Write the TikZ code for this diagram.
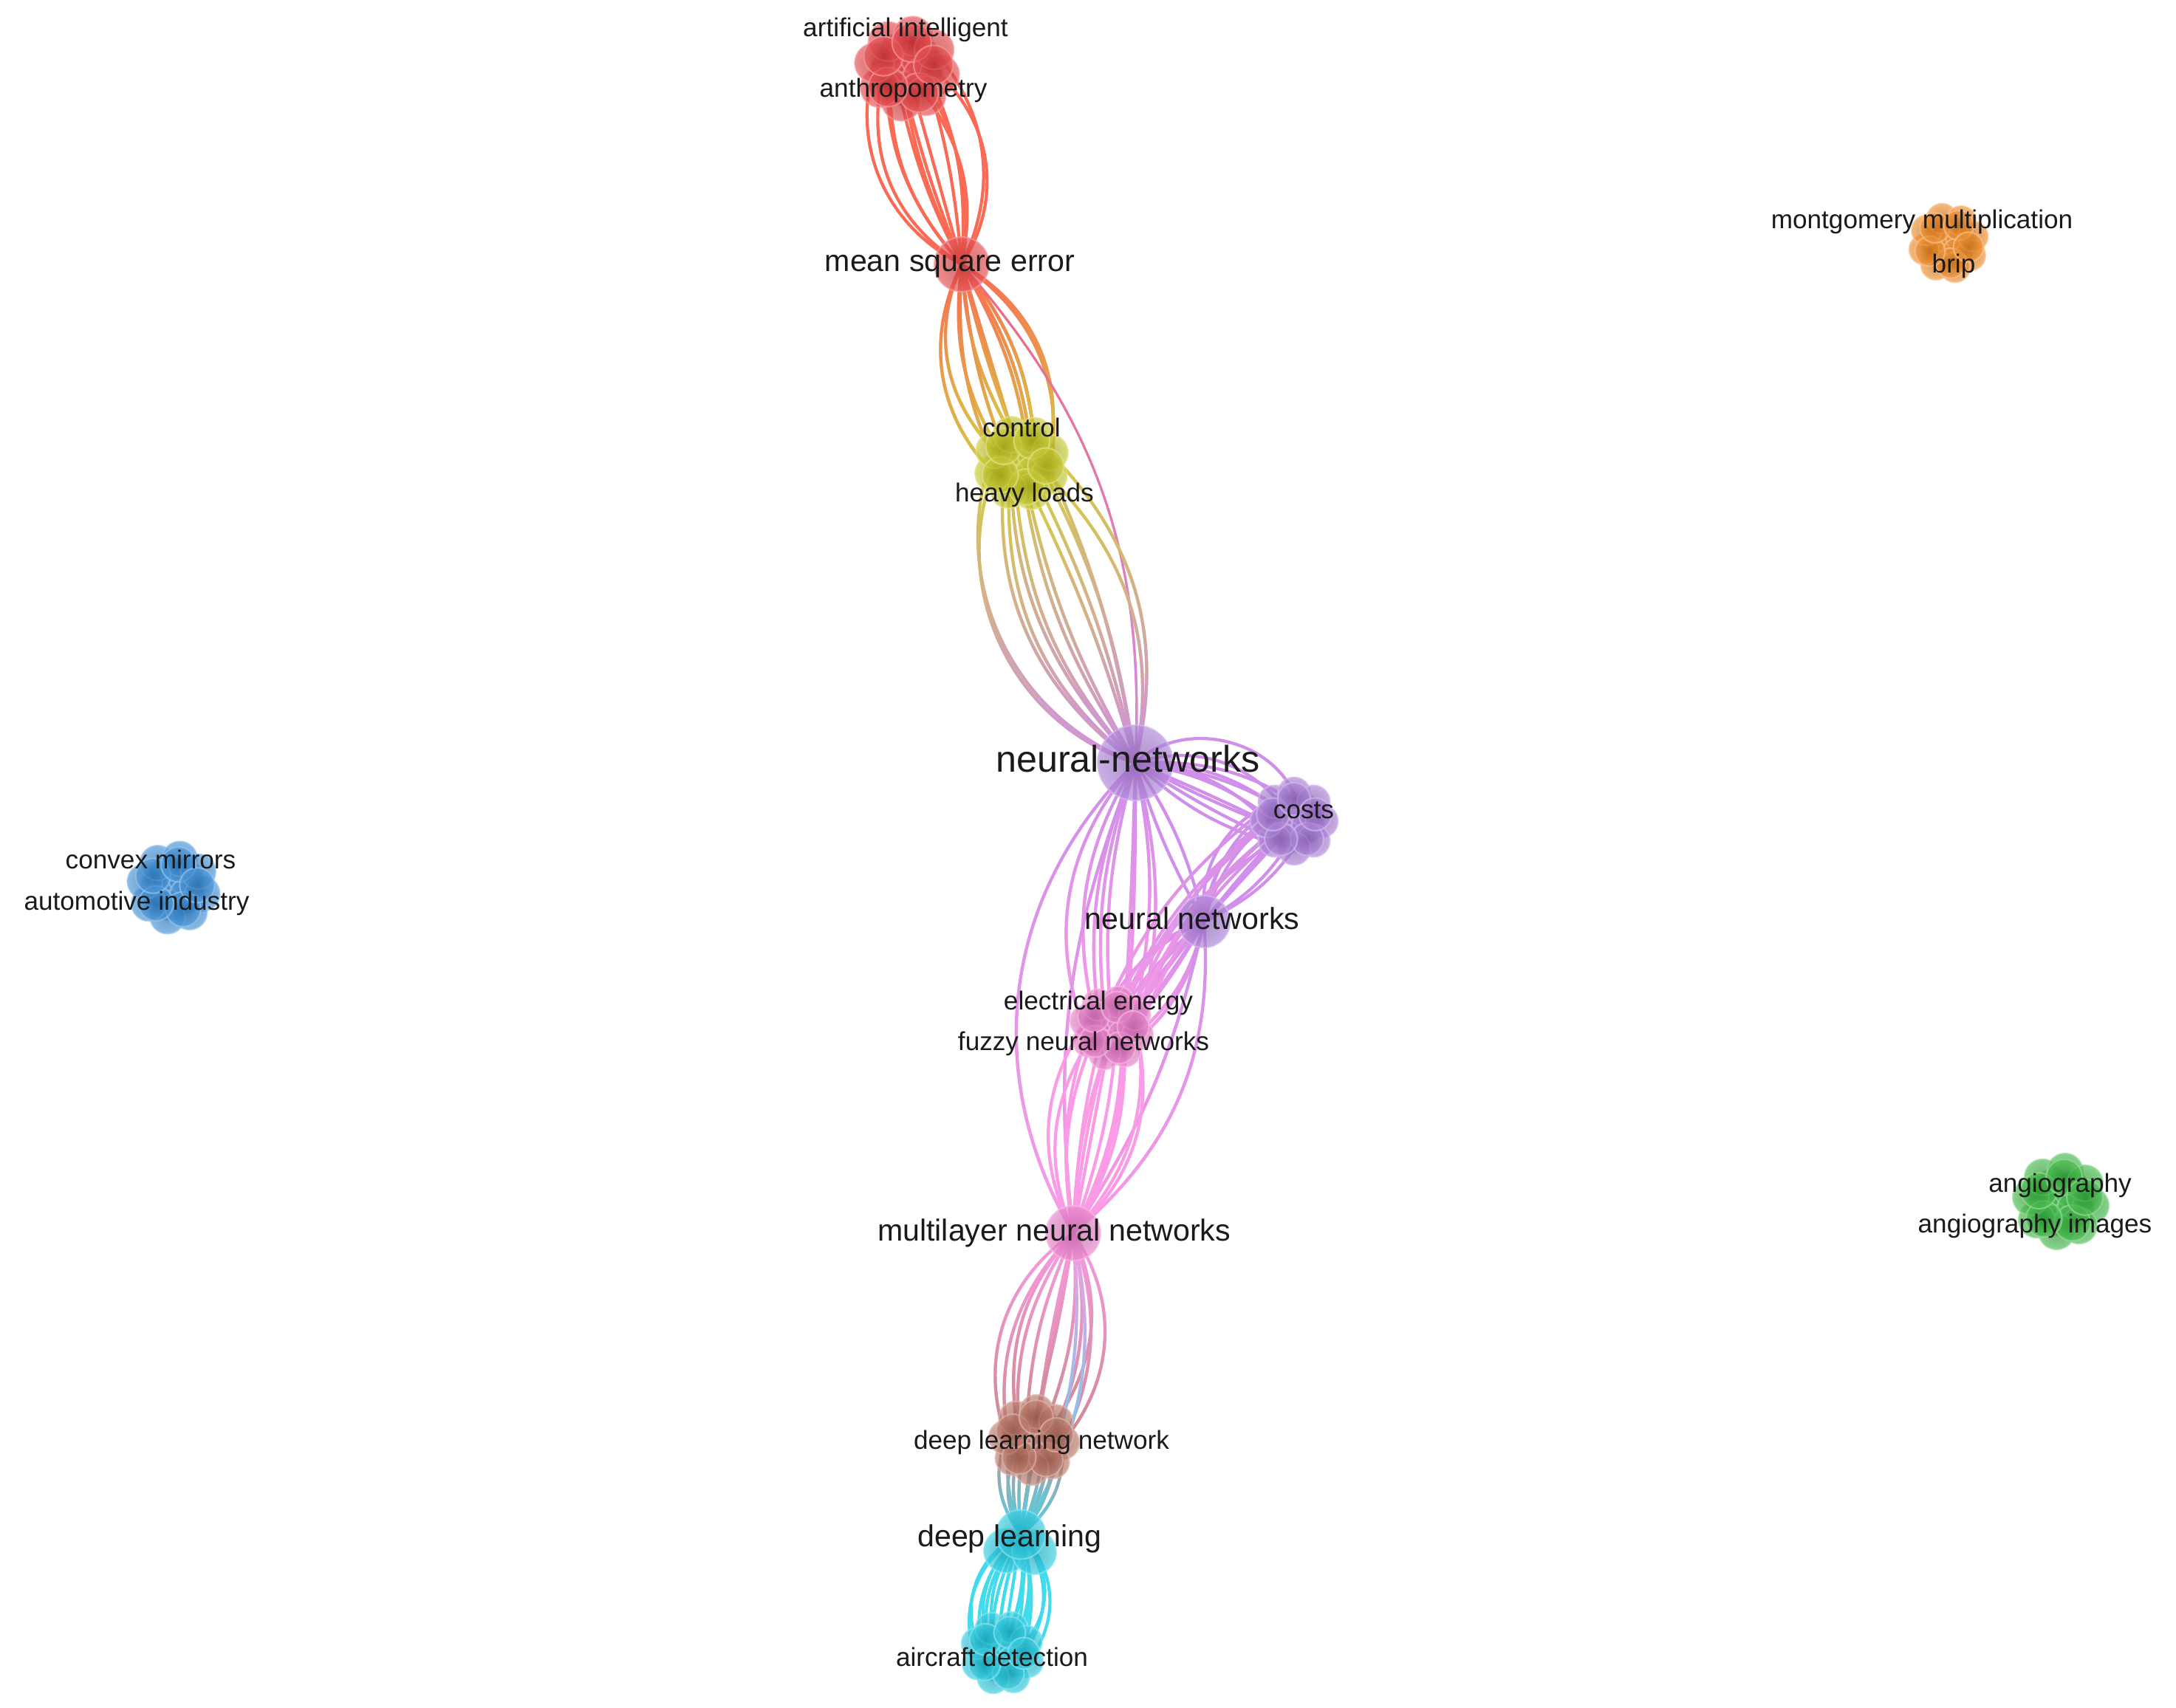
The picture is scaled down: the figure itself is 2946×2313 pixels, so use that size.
\documentclass[tikz,border=0pt]{standalone}
\usepackage{fontspec}
\setmainfont{Liberation Sans}
\usetikzlibrary{fadings}
\definecolor{RedC}{HTML}{E5363A}
\definecolor{YelC}{HTML}{C2C418}
\definecolor{PurC}{HTML}{A374D6}
\definecolor{PinkC}{HTML}{E672C4}
\definecolor{BrownC}{HTML}{B66A5A}
\definecolor{CyanC}{HTML}{18C6DE}
\definecolor{BlueC}{HTML}{2F88D6}
\definecolor{OrangeC}{HTML}{F08418}
\definecolor{GreenC}{HTML}{2FB436}
\definecolor{EdgeRed}{HTML}{FA6A55}
\definecolor{EdgeYel}{HTML}{D6CD40}
\definecolor{EdgeLil}{HTML}{D08FEA}
\definecolor{EdgePink}{HTML}{FB9BE6}
\definecolor{EdgeBrown}{HTML}{CC8A8A}
\definecolor{EdgeCyan}{HTML}{40DCEE}
\definecolor{EdgeRose}{HTML}{EE6A80}
\definecolor{TxtC}{HTML}{1A1A1A}
\tikzfading[name=fadeup, top color=transparent!100, bottom color=transparent!0]
\def\BubA{{0,90,162,234,306,18,0,45,90,135,180,225,270,315,54,126,198,270,342}}
\def\BubR{{0,0.33,0.33,0.33,0.33,0.33,0.62,0.62,0.62,0.62,0.62,0.62,0.62,0.62,0.5,0.5,0.5,0.5,0.5}}
% cluster: name, cx, cy, R, rotation, colour
\newcommand\mkclus[6]{%
  \foreach \i in {1,...,19}{%
    \pgfmathsetmacro\ang{\BubA[\i-1]+#5}%
    \pgfmathsetmacro\rad{\BubR[\i-1]*#4}%
    \pgfmathsetmacro\bx{#2+\rad*cos(\ang)}%
    \pgfmathsetmacro\by{#3+\rad*sin(\ang)}%
    \pgfmathsetmacro\bd{0.74*#4*0.28453}%
    \node[bub=#6, minimum size=\bd pt] (#1-\i) at (\bx,\by) {};
  }}
% fan: cluster, rotation, hub, kx, ky, bias, style, indices
\newcommand\mkfan[8]{%
  \foreach \i in {#8}{%
    \pgfmathsetmacro\ang{\BubA[\i-1]+#2}%
    \pgfmathsetmacro\ox{\BubR[\i-1]*cos(\ang)}%
    \pgfmathsetmacro\oy{\BubR[\i-1]*sin(\ang)}%
    \pgfmathsetmacro\bb{#4*\ox+#5*\oy+#6}%
    \draw[#7] (#3.center) to[bend left=\bb] (#1-\i.center);
  }}
\pgfdeclarelayer{bg}
\pgfdeclarelayer{edges}
\pgfsetlayers{bg,edges,main}
\begin{document}
\begin{tikzpicture}[x=0.01cm, y=-0.01cm,
  bub/.style={circle, inner sep=0pt, inner color=#1!80!black, outer color=#1!85!white,
    draw=#1!50!white, line width=0.6pt, opacity=0.68},
  ls/.style={font=\fontsize{10}{12}\selectfont, text=TxtC, inner sep=0pt, text height=0.72em, text depth=0.2em},
  lb/.style={font=\fontsize{11.7}{14}\selectfont, text=TxtC, inner sep=0pt, text height=0.72em, text depth=0.2em},
  lh/.style={font=\fontsize{14.3}{17}\selectfont, text=TxtC, inner sep=0pt, text height=0.72em, text depth=0.2em},
  plain/.style={line width=1.2pt, draw=#1},
  grad/.style 2 args={line width=1.2pt, draw=#1, postaction={draw=#2, path fading=fadeup}}]
\useasboundingbox (0,0) rectangle (2946,2313);
\begin{pgfonlayer}{bg}
\fill[white] (0,0) rectangle (2946,2313);
\end{pgfonlayer}

% clusters of overlapping bubbles
\mkclus{red}{1228}{93}{72}{10}{RedC}
\mkclus{yel}{1383}{627}{66}{25}{YelC}
\mkclus{cost}{1752}{1112}{60}{0}{PurC}
\mkclus{pnk}{1505}{1392}{58}{15}{PinkC}
\mkclus{brn}{1400}{1950}{62}{5}{BrownC}
\mkclus{air}{1357}{2238}{58}{20}{CyanC}
\mkclus{blu}{235}{1202}{64}{12}{BlueC}
\mkclus{org}{2638}{329}{55}{30}{OrangeC}
\mkclus{grn}{2790}{1627}{66}{8}{GreenC}

% hub nodes
\node[bub=RedC, minimum size=21pt] (mse) at (1302,358) {};
\node[bub=PurC, minimum size=29pt] (nn) at (1537,1033) {};
\node[bub=PurC, minimum size=20pt] (nn2) at (1630,1248) {};
\node[bub=PinkC, minimum size=21pt] (mlp) at (1453,1670) {};
\node[bub=CyanC, minimum size=17pt] (dla) at (1362,2100) {};
\node[bub=CyanC, minimum size=17pt] (dlb) at (1400,2102) {};
\node[bub=CyanC, minimum size=19pt] (dl) at (1382,2078) {};

% edges
\begin{pgfonlayer}{edges}
\mkfan{red}{10}{mse}{-65}{0}{0}{plain=EdgeRed}{1,...,14}
\mkfan{yel}{25}{mse}{60}{0}{0}{grad={EdgeRed}{EdgeYel}}{1,...,14}
\draw[grad={EdgeRose}{EdgeLil}, line width=0.9pt] (mse.center) to[bend left=22] (nn.center);
\mkfan{yel}{25}{nn}{-65}{0}{9}{grad={EdgeYel}{EdgeLil}}{1,...,14}
\mkfan{cost}{0}{nn}{0}{-55}{20}{plain=EdgeLil}{1,2,3,4,6,7,8,9,10,11,13}
\draw[plain=EdgeLil] (nn.center) to[bend left=10] (nn2.center);
\draw[plain=EdgeLil] (nn.center) to[bend right=6] (nn2.center);
\mkfan{cost}{0}{nn2}{-42}{-42}{0}{plain=EdgeLil}{1,2,4,5,6,10,11,12,13,14}
\mkfan{pnk}{15}{nn}{40}{0}{-10}{grad={EdgeLil}{EdgePink}}{1,2,3,6,7,8,9,10,14}
\mkfan{pnk}{15}{nn2}{35}{35}{-10}{grad={EdgeLil}{EdgePink}}{1,2,3,5,6,7,8,9,13,14}
\foreach \i/\j in {11/2,12/3,13/6,1/7,3/8,4/9,5/14,10/1}{
  \draw[grad={EdgeLil}{EdgePink}] (cost-\i.center) to[bend right=15] (pnk-\j.center);
}
\draw[grad={EdgeLil}{EdgePink}] (nn.center) to[bend right=38] (mlp.center);
\draw[grad={EdgeLil}{EdgePink}] (nn.center) to[bend right=14] (mlp.center);
\draw[grad={EdgeLil}{EdgePink}] (nn2.center) to[bend left=27] (mlp.center);
\draw[grad={EdgeLil}{EdgePink}] (nn2.center) to[bend left=10] (mlp.center);
\mkfan{pnk}{15}{mlp}{-50}{0}{0}{plain=EdgePink}{1,...,14}
\mkfan{brn}{5}{mlp}{60}{0}{0}{grad={EdgePink}{EdgeBrown}}{1,...,14}
\draw[grad={EdgePink}{EdgeCyan}] (mlp.center) to[bend left=22] (dl.center);
\draw[grad={EdgePink}{EdgeCyan}] (mlp.center) to[bend left=15] (dl.center);
\mkfan{brn}{5}{dl}{-45}{0}{0}{grad={EdgeBrown}{EdgeCyan}}{1,...,14}
\mkfan{air}{20}{dl}{75}{0}{0}{plain=EdgeCyan}{1,...,19}
\end{pgfonlayer}

% labels
\node[ls] (l-ai) at (1226,40) {artificial intelligent};
\node[ls] (l-an) at (1223,122) {anthropometry};
\node[lb] (l-mse) at (1286,358) {mean square error};
\node[ls] (l-ctl) at (1383,582) {control};
\node[ls] (l-hl) at (1387,670) {heavy loads};
\node[lh] (l-nn) at (1527,1036) {neural-networks};
\node[ls] (l-cost) at (1765,1099) {costs};
\node[lb] (l-nn2) at (1614,1249) {neural networks};
\node[ls] (l-ee) at (1487,1358) {electrical energy};
\node[ls] (l-fnn) at (1467,1413) {fuzzy neural networks};
\node[lb] (l-mlp) at (1427,1671) {multilayer neural networks};
\node[ls] (l-dln) at (1410,1953) {deep learning network};
\node[lb] (l-dl) at (1367,2085) {deep learning};
\node[ls] (l-ad) at (1343,2247) {aircraft detection};
\node[ls] (l-cm) at (204,1167) {convex mirrors};
\node[ls] (l-ami) at (185,1223) {automotive industry};
\node[ls] (l-mm) at (2602,300) {montgomery multiplication};
\node[ls] (l-brip) at (2645,360) {brip};
\node[ls] (l-ang) at (2789,1605) {angiography};
\node[ls] (l-angi) at (2755,1660) {angiography images};
\end{tikzpicture}
\end{document}
